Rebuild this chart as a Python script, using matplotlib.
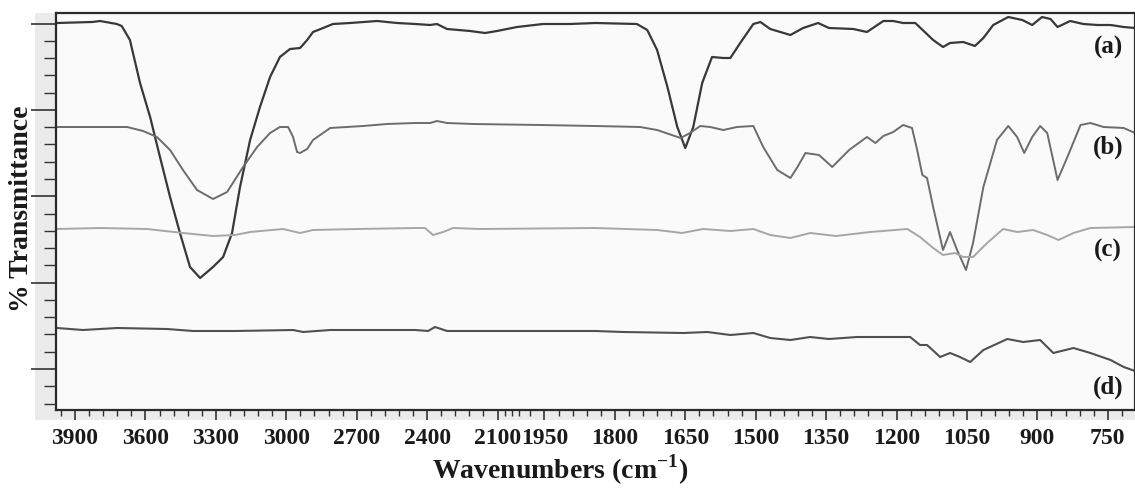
import numpy as np
import matplotlib
matplotlib.use('Agg')
import matplotlib.pyplot as plt
from matplotlib.patches import Rectangle

plt.rcParams['font.family'] = 'Liberation Serif'
plt.rcParams['font.weight'] = 'bold'
plt.rcParams['mathtext.fontset'] = 'custom'
plt.rcParams['mathtext.rm'] = 'Liberation Serif'
plt.rcParams['mathtext.bf'] = 'Liberation Serif:bold'

# spectra (wavenumber in cm-1, transmittance in arbitrary units)
wn_a = [3977, 3827, 3793, 3722, 3701, 3666, 3623, 3580, 3538, 3495, 3453, 3410, 3367,
        3312, 3269, 3231, 3197, 3154, 3112, 3069, 3027, 2984, 2941, 2911, 2886, 2843,
        2801, 2728, 2613, 2528, 2451, 2387, 2358, 2315, 2217, 2153, 2102, 2017, 1953,
        1895, 1842, 1753, 1731, 1710, 1688, 1667, 1650, 1633, 1614, 1593, 1569, 1554,
        1533, 1505, 1490, 1469, 1426, 1399, 1367, 1344, 1292, 1263, 1228, 1207, 1186,
        1160, 1122, 1101, 1086, 1058, 1033, 1015, 994, 962, 932, 911, 890, 872, 857,
        830, 802, 772, 744, 716, 692]
t_a = [387, 388, 389, 386, 384, 370, 327, 293, 253, 213, 177, 143, 132,
       143, 153, 177, 223, 270, 303, 333, 353, 361, 362, 370, 378, 382,
       386, 387, 389, 387, 386, 385, 386, 381, 379, 377, 379, 383, 386,
       386, 387, 386, 380, 360, 323, 283, 262, 283, 327, 353, 352, 352,
       367, 386, 388, 381, 375, 382, 387, 382, 381, 378, 389, 389, 387,
       387, 370, 363, 367, 368, 364, 372, 385, 393, 390, 385, 393, 391, 383,
       389, 386, 385, 385, 383, 382]

wn_b = [3977, 3678, 3610, 3551, 3495, 3440, 3380, 3312, 3252, 3184, 3124, 3069, 3027,
        2992, 2971, 2954, 2941, 2911, 2886, 2813, 2673, 2571, 2451, 2387, 2358, 2315,
        2204, 1959, 1842, 1746, 1710, 1660, 1640, 1618, 1597, 1569, 1540, 1505, 1484,
        1454, 1426, 1411, 1394, 1365, 1337, 1301, 1263, 1245, 1228, 1207, 1186, 1167,
        1156, 1145, 1135, 1122, 1101, 1086, 1071, 1052, 1037, 1015, 986, 962, 943, 928,
        911, 894, 879, 857, 836, 808, 787, 759, 716, 692]
t_b = [283, 283, 279, 273, 260, 240, 220, 211, 218, 243, 263, 277, 283,
       283, 273, 258, 257, 261, 270, 282, 284, 286, 287, 287, 289, 287,
       286, 285, 284, 283, 280, 272, 277, 284, 283, 280, 283, 284, 263,
       240, 232, 243, 257, 255, 243, 260, 273, 267, 274, 278, 285, 282,
       260, 235, 232, 203, 160, 178, 160, 140, 167, 223, 270, 284, 273, 257,
       273, 284, 277, 230, 253, 285, 287, 283, 282, 277]

wn_c = [3977, 3793, 3593, 3440, 3312, 3218, 3154, 3014, 2941, 2886, 2698, 2451, 2409,
        2375, 2332, 2289, 2174, 1842, 1710, 1657, 1612, 1554, 1505, 1469, 1426, 1384,
        1329, 1256, 1177, 1150, 1122, 1101, 1075, 1058, 1037, 1007, 973, 943, 909, 879,
        855, 823, 787, 692]
t_c = [181, 182, 181, 177, 174, 175, 178, 181, 177, 180, 181, 182, 182,
       175, 178, 182, 181, 182, 180, 177, 181, 179, 181, 175, 172, 177,
       174, 178, 181, 173, 162, 155, 157, 153, 153, 167, 181, 178, 180, 175,
       170, 177, 182, 183]

wn_d = [3977, 3866, 3721, 3508, 3397, 3218, 2971, 2928, 2813, 2451, 2396, 2366, 2315,
        1842, 1782, 1654, 1603, 1554, 1505, 1469, 1426, 1384, 1344, 1284, 1171, 1150,
        1135, 1107, 1086, 1065, 1043, 1015, 964, 930, 894, 866, 823, 787, 744, 716, 692]
t_d = [82, 80, 82, 81, 79, 79, 80, 78, 80, 80, 79, 83, 79,
       79, 78, 77, 78, 75, 77, 72, 70, 73, 71, 73, 73, 65,
       65, 53, 57, 53, 48, 60, 71, 68, 70, 57, 62, 57, 50, 43, 39]

labels = ['(a)', '(b)', '(c)', '(d)']
label_y = [363, 263, 160, 23]
xticks = [3900, 3600, 3300, 3000, 2700, 2400, 2100, 1950, 1800, 1650, 1500,
          1350, 1200, 1050, 900, 750]


# instrument style axis: half scale above 2000 cm-1
def fwd(w):
    w = np.asarray(w, dtype=float)
    return np.where(w > 2000, 2000 + (w - 2000) / 2, w)


def inv(u):
    u = np.asarray(u, dtype=float)
    return np.where(u > 2000, 2000 + 2 * (u - 2000), u)


fig = plt.figure(figsize=(11.35, 5.0), dpi=100)
fig.patches.append(Rectangle((35 / 1135, 1 - 420 / 500), 1.0, 420 / 500 - 13 / 500,
                             transform=fig.transFigure, facecolor='#ebebeb',
                             edgecolor='none', zorder=-5))
ax = fig.add_axes([56 / 1135, 1 - 410 / 500, 1079 / 1135, 397 / 500])
ax.set_zorder(2)
ax.set_facecolor('#fafafa')
ax.set_xscale('function', functions=(fwd, inv))

ax.plot(wn_a, t_a, color='#383838', lw=1.6)
ax.plot(wn_b, t_b, color='#6c6c6c', lw=1.4)
ax.plot(wn_c, t_c, color='#a6a6a6', lw=1.4)
ax.plot(wn_d, t_d, color='#505050', lw=1.5)

ax.set_xlim(3981, 692)
ax.set_ylim(0, 397)

ax.set_xticks(xticks)
ax.set_xticklabels([str(v) for v in xticks])
ax.set_xticks(list(range(3960, 2100, -60)) + list(range(2070, 690, -30)), minor=True)
ax.set_yticks(np.arange(41, 397, 86.35))
ax.set_yticks(np.arange(6.46, 397, 17.27), minor=True)
ax.set_yticklabels([])

ax.tick_params(axis='x', which='major', direction='out', length=7, width=1.2,
               color='#333333', labelsize=17, pad=6, labelcolor='#1a1a1a')
ax.tick_params(axis='x', which='minor', direction='out', length=4, width=1.0,
               color='#333333')
ax.tick_params(axis='y', which='major', direction='out', length=18, width=1.2,
               color='#333333')
ax.tick_params(axis='y', which='minor', direction='out', length=9, width=1.0,
               color='#333333')
for s in ax.spines.values():
    s.set_linewidth(1.6)
    s.set_color('#2a2a2a')

for lab, yy in zip(labels, label_y):
    ax.text(749, yy, lab, ha='center', va='center', fontsize=18,
            fontweight='bold', color='#1a1a1a')

fig.text(560 / 1135, 1 - 470 / 500, r'Wavenumbers (cm$^{\mathbf{-1}}$)',
         ha='center', va='center', fontsize=20, fontweight='bold', color='#1a1a1a')
fig.text(22 / 1135, 1 - 209 / 500, '% Transmittance', rotation=90,
         ha='center', va='center', fontsize=20, fontweight='bold', color='#1a1a1a')

fig.savefig('out.png', dpi=100)
